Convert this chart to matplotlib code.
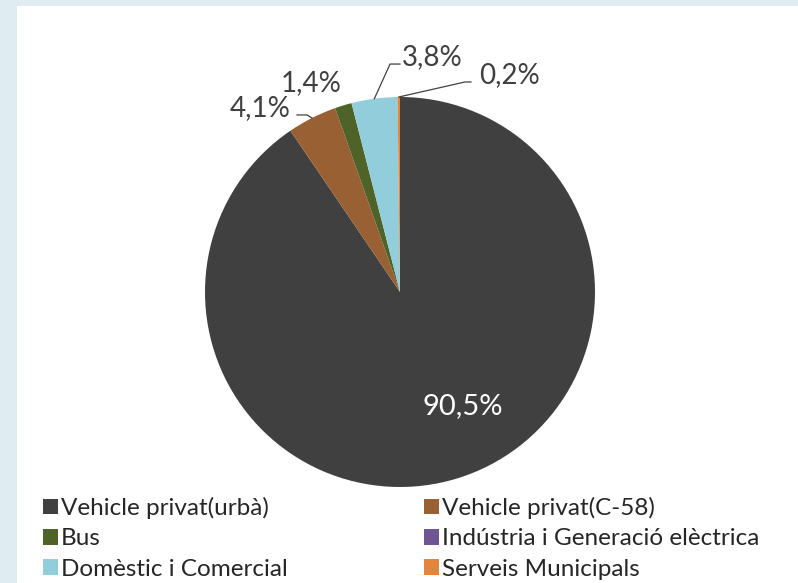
import numpy as np
import matplotlib.pyplot as plt
from matplotlib.patches import Rectangle

# data
categories = ['Vehicle privat(urbà)', 'Vehicle privat(C-58)', 'Bus',
              'Indústria i Generació elèctrica', 'Domèstic i Comercial',
              'Serveis Municipals']
shares = [90.5, 4.1, 1.4, 0.0, 3.8, 0.2]
labels = ['90,5%', '4,1%', '1,4%', '', '3,8%', '0,2%']
colors = ['#404040', '#996133', '#4f6228', '#6f5693', '#92cddc', '#e5843c']

plt.rcParams['font.family'] = ['Lato', 'DejaVu Sans']

W, H = 798, 583
fig = plt.figure(figsize=(W / 100, H / 100), dpi=100)
fig.patch.set_facecolor('#dfedf3')
fig.add_artist(Rectangle((17 / W, 0), 1, 1 - 6 / H, transform=fig.transFigure,
                         facecolor='white', edgecolor='none', zorder=0))

# pie: centre (400, 292) px, radius 195 px
cx, cy, r = 400, 292, 195
ax = fig.add_axes([(cx - r) / W, (H - cy - r) / H, 2 * r / W, 2 * r / H])
wedges, _ = ax.pie(shares, colors=colors, startangle=90, counterclock=False,
                   radius=1, wedgeprops=dict(linewidth=0))
ax.set_xlim(-1, 1)
ax.set_ylim(-1, 1)
ax.set_aspect('equal')
ax.axis('off')

def edge(i, rr=1.0):
    w = wedges[i]
    a = np.deg2rad((w.theta1 + w.theta2) / 2)
    return rr * np.cos(a), rr * np.sin(a)

# label placement (data units of radius)
pos = {0: (0.32, -0.585), 1: (-0.718, 0.944), 2: (-0.456, 1.072),
       4: (0.164, 1.205), 5: (0.559, 1.113)}
for i, (x, y) in pos.items():
    c = 'white' if i == 0 else '#404040'
    fs = 21 if i == 0 else 20
    ax.text(x, y, labels[i], ha='center', va='center', color=c, fontsize=fs)

# leader lines
leaders = {1: [(-0.528, 0.908), (-0.477, 0.908)],
           4: [(0.0, 1.169), (-0.051, 1.169)],
           5: [(0.364, 1.077), (0.333, 1.077)]}
for i, pts in leaders.items():
    ex, ey = edge(i)
    xs = [p[0] for p in pts] + [ex]
    ys = [p[1] for p in pts] + [ey]
    ax.plot(xs, ys, color='#404040', lw=0.9, clip_on=False)

# legend, row-wise order
order = [0, 2, 4, 1, 3, 5]
leg = fig.legend([wedges[i] for i in order], [categories[i] for i in order],
                 ncol=2, loc='upper left', bbox_to_anchor=(43 / W, 1 - 497 / H),
                 frameon=False, fontsize=17.5, handlelength=0.62, handleheight=0.62,
                 handletextpad=0.12, columnspacing=5.6, labelspacing=0.38,
                 borderaxespad=0, borderpad=0)
for t in leg.get_texts():
    t.set_color('#262626')

fig.savefig('out.png', dpi=100, facecolor=fig.get_facecolor())
